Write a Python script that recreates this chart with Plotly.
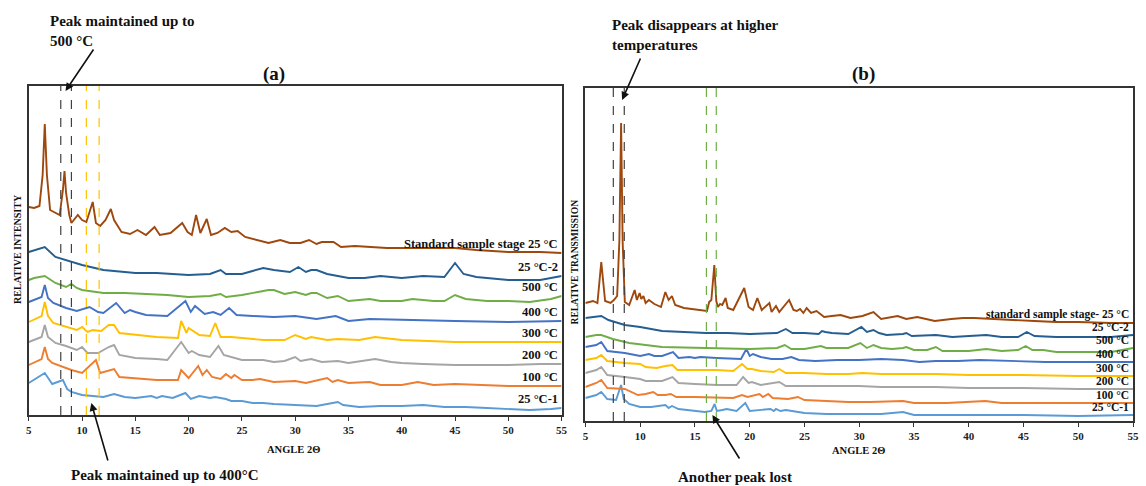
import plotly.graph_objects as go

W, H = 1146, 486
SERIF = "Liberation Serif, Times New Roman, serif"

# ---------------- data: panel (a) relative intensity vs 2-theta ----------------
A_25C1 = [(5, 32), (6.5, 42), (7.2, 31), (8.2, 35), (8.6, 26), (9, 23), (10, 20), (11, 19), (12, 18), (13, 21),
          (14, 18), (15, 17), (16.5, 19), (17, 17), (17.5, 19), (18.5, 17), (19.7, 22), (20.2, 16), (21, 19), (22, 17),
          (22.5, 18), (23.5, 16), (24, 14), (25, 14), (26, 12), (27, 12), (28, 11), (30, 10), (32, 9), (34, 13),
          (34.5, 10), (36, 8), (38, 9), (40, 9), (42, 10), (44, 8), (46, 8), (48, 7), (50, 6), (52, 5), (54, 6), (55, 7)]
A_100 = [(5, 50), (6.2, 56), (6.5, 68), (6.8, 56), (7.2, 52), (8.5, 47), (9, 45), (10, 42), (11.3, 55), (11.7, 42),
         (12.3, 44), (13, 46), (13.5, 38), (15, 37), (17, 35), (19, 35), (19.3, 45), (20, 37), (20.9, 49), (21.3, 40),
         (21.7, 45), (22.2, 38), (23, 36), (23.5, 41), (24, 37), (24.3, 40), (25, 35), (26, 35), (26.7, 36), (28, 33),
         (30, 34), (31, 32), (33, 37), (33.5, 33), (34, 35), (35, 32), (37, 33), (38, 30), (40, 30), (41.5, 33),
         (43, 30), (45, 31), (47, 30), (50, 29), (53, 29), (55, 29)]
A_200 = [(5, 73), (6.2, 78), (6.5, 90), (6.8, 78), (7.5, 72), (8.5, 69), (9.5, 65), (10, 68), (10.5, 62), (11.5, 62),
         (12.5, 68), (13, 70), (13.5, 60), (15, 57), (17, 56), (18, 55), (19.3, 73), (20, 62), (20.3, 64), (21, 60),
         (22, 58), (22.8, 69), (23.3, 60), (24, 58), (25, 55), (27, 55), (28, 53), (29, 54), (30, 58), (30.5, 54),
         (31.5, 56), (32.5, 53), (34, 54), (35, 52), (37.5, 56), (39, 53), (40, 52), (42, 51), (45, 50), (48, 50),
         (50, 50), (53, 51), (55, 51)]
A_300 = [(5, 93), (6.2, 99), (6.5, 113), (6.8, 99), (7.3, 92), (8.5, 88), (9.5, 85), (10, 88), (10.5, 83), (11, 85),
         (11.8, 84), (12.5, 90), (13, 90), (13.5, 82), (15, 80), (17, 78), (19, 77), (19.3, 94), (19.8, 82), (20, 87),
         (21, 80), (22, 79), (22.5, 92), (23, 78), (24, 78), (25, 77), (27, 75), (29, 75), (30, 80), (31, 76),
         (31.5, 78), (33, 75), (34, 76), (36, 75), (37.5, 78), (40, 75), (42, 74), (45, 73), (48, 73), (50, 73), (55, 73)]
A_400 = [(5, 113), (6.2, 118), (6.5, 130), (6.8, 117), (7.3, 112), (8.5, 107), (9.5, 104), (10.7, 108), (11.5, 103),
         (12, 102), (13.2, 112), (14, 102), (14.5, 105), (15, 103), (16, 100), (18, 99), (19.7, 114), (20.2, 103),
         (20.6, 109), (21.5, 101), (22.3, 103), (23, 100), (23.8, 107), (24.5, 100), (26, 99), (28, 98), (30, 99),
         (32, 96), (33.8, 99), (35, 94), (37, 96), (40, 95), (45, 94), (50, 93), (55, 94)]
A_500 = [(5, 135), (5.5, 137), (6.5, 139), (7.5, 132), (8.5, 128), (9, 131), (9.5, 127), (10, 125), (12, 122), (14, 122),
         (16, 121), (18, 120), (20, 118), (22, 119), (23, 121), (23.5, 118), (25, 120), (26.5, 123), (27.5, 125),
         (28, 125), (29, 121), (30, 123), (31, 120), (31.5, 122), (32, 122), (33, 117), (34, 119), (35, 114), (37, 116),
         (38, 114), (40, 114), (41, 116), (43, 114), (44, 114), (45, 120), (46, 116), (48, 114), (50, 114), (52, 113),
         (54, 116), (55, 119)]
A_25C2 = [(5, 163), (6.5, 168), (7.5, 158), (9, 153), (10, 150), (12, 145), (15, 142), (17, 142), (20, 140), (22, 141),
          (23, 145), (23.5, 141), (25, 141), (26, 144), (27, 147), (28, 145), (29.5, 143), (30.3, 148), (31, 143),
          (31.5, 145), (32, 145), (33, 141), (34, 139), (35, 137), (36.5, 137), (38, 139), (40, 137), (42, 139),
          (44, 138), (45, 152), (45.8, 141), (47, 138), (50, 135), (53, 135), (55, 139)]
A_STD = [(5, 208), (5.5, 207), (6, 209), (6.3, 240), (6.5, 291), (6.7, 240), (7, 205), (7.5, 202), (7.9, 200),
         (8.2, 225), (8.35, 244), (8.5, 222), (8.8, 200), (9, 192), (9.6, 200), (10, 195), (10.4, 193), (11, 213),
         (11.3, 192), (11.7, 189), (12.2, 195), (12.7, 206), (13, 195), (13.7, 183), (14.5, 181), (15.2, 185),
         (16, 180), (16.8, 188), (17.3, 180), (18.3, 182), (19.4, 192), (19.9, 183), (20.3, 180), (20.7, 200),
         (21.1, 182), (21.7, 196), (22.1, 180), (22.7, 182), (23.4, 187), (24, 183), (24.6, 184), (25.3, 178),
         (26.3, 175), (27.5, 172), (28.6, 175), (29.5, 172), (30.5, 172), (31.3, 175), (32, 171), (32.5, 173),
         (33.6, 173), (34.3, 168), (35.6, 169), (37, 168), (38.6, 167), (40, 167), (42, 167), (45, 167), (47, 165),
         (50, 163), (53, 163), (55, 162)]

# ---------------- data: panel (b) relative transmission vs 2-theta ----------------
B_25C1 = [(5, 23), (6, 26), (6.45, 29), (7, 22), (7.8, 21), (8.26, 36), (8.5, 22), (9, 17), (10, 14), (11, 14),
          (12.3, 16), (12.6, 13), (12.9, 15), (13.5, 12), (15.9, 9), (16.5, 10), (16.8, 17), (17, 10), (17.5, 11),
          (17.9, 12), (18.8, 10), (19.6, 18), (20, 10), (21, 11), (21.9, 12), (22.2, 10), (22.4, 12), (22.8, 10),
          (23.3, 11), (25, 8), (27, 7), (30, 7), (32, 7), (34, 9), (35, 6), (40, 6), (45, 6), (50, 5), (55, 6)]
B_100 = [(5, 34), (6, 38), (6.45, 41), (7, 33), (8.6, 32), (9.8, 26), (10.5, 27), (11.2, 29), (11.6, 26), (12.3, 26),
         (12.8, 27), (13.3, 24), (15, 24), (17, 23), (18.5, 23), (19.3, 26), (19.8, 24), (20.9, 27), (21.2, 24),
         (21.7, 27), (22.1, 23), (23.5, 22), (24.4, 24), (25, 21), (27, 20), (29, 19), (31, 19), (34, 20), (35, 18),
         (38, 18), (41.5, 20), (43, 18), (46, 18), (50, 18), (55, 18)]
B_200 = [(5, 48), (6, 51), (6.45, 54), (7, 46), (8.6, 44), (10, 42), (10.5, 40), (12, 40), (12.95, 44), (13.5, 38),
         (15, 37), (17, 36), (18.8, 36), (19.4, 44), (19.9, 38), (20.2, 39), (21, 36), (22.7, 39), (23.3, 35), (25, 35),
         (26.3, 35), (28, 35), (30, 35), (32, 34), (34, 34), (37, 34), (40, 33), (45, 33), (50, 32), (55, 32)]
B_300 = [(5, 61), (6, 63), (6.45, 66), (7, 60), (8.6, 58), (10, 57), (10.5, 54), (11.5, 53), (12.3, 55), (12.95, 56),
         (13.4, 51), (15, 51), (17, 51), (18.5, 50), (19.3, 57), (19.8, 52), (20.2, 52), (21, 50), (22.2, 49),
         (22.7, 52), (23.3, 48), (25, 48), (27, 47), (29, 47), (30.3, 48), (32, 47), (34, 47), (37, 47), (40, 46),
         (45, 46), (50, 45), (55, 45)]
B_400 = [(5, 74), (6, 76), (6.45, 79), (7, 70), (8.6, 68), (10, 65), (10.8, 67), (11.3, 65), (12, 65), (13, 69),
         (13.5, 63), (14.5, 64), (15, 63), (15.5, 64), (17, 63), (19.2, 62), (19.7, 72), (20, 65), (20.3, 67), (21, 64),
         (22, 62), (23, 62), (23.8, 64), (24.5, 61), (26, 60), (28, 61), (30, 61), (32, 62), (34, 61), (35.5, 59),
         (37, 60), (39, 60), (41, 61), (44, 60), (47, 59), (50, 59), (55, 59)]
B_500 = [(5, 84), (6, 86), (6.45, 86), (7.5, 82), (9, 78), (12, 74), (16, 73), (20, 72), (22.5, 73), (23.2, 76),
         (23.8, 72), (25, 72), (26.5, 75), (27, 73), (29, 73), (30.1, 78), (30.7, 73), (31.3, 76), (32, 73), (33, 72),
         (34, 73), (34.3, 74), (35, 71), (36.2, 71), (37, 74), (37.6, 70), (40, 70), (41.6, 72), (43, 70), (44.5, 71),
         (45.2, 75), (45.8, 71), (46.8, 71), (48, 69), (50, 69), (53, 69), (55, 73)]
B_25C2 = [(5, 103), (6, 104), (6.45, 105), (7.1, 101), (8.6, 96), (10, 94), (12, 90), (14, 89), (16, 88), (18, 88),
          (20, 87), (22.5, 88), (23.3, 92), (23.9, 88), (25, 88), (26.3, 87), (26.6, 90), (26.9, 89), (27.5, 88),
          (29, 87), (30.2, 94), (30.7, 89), (31.3, 91), (31.8, 88), (32.5, 86), (34, 87), (34.3, 88), (34.8, 85),
          (37, 86), (38.5, 84), (40, 85), (41.6, 86), (43, 84), (44.5, 84), (45.3, 89), (46, 85), (48, 84), (50, 84),
          (53, 84), (55, 86)]
B_STD = [(5, 118), (5.7, 120), (6.1, 118), (6.45, 159), (6.8, 120), (7.3, 118), (7.6, 121), (7.9, 125), (8.1, 180),
         (8.26, 298), (8.4, 180), (8.6, 119), (9, 116), (9.5, 131), (9.7, 121), (9.95, 128), (10.1, 122), (10.3, 125),
         (10.5, 118), (10.8, 121), (11.3, 117), (11.9, 114), (12.3, 129), (12.6, 121), (12.9, 125), (13.2, 116),
         (14, 113), (15.2, 111), (16.1, 110), (16.3, 119), (16.5, 121), (16.77, 156), (16.95, 120), (17.1, 114),
         (17.3, 117), (17.5, 116), (17.8, 123), (18, 113), (18.5, 111), (19.5, 133), (19.9, 114), (20.3, 111),
         (20.7, 123), (21.1, 111), (21.8, 118), (22, 109), (22.4, 115), (22.7, 109), (23.3, 117), (23.6, 121),
         (24, 111), (24.3, 110), (24.6, 112), (24.9, 108), (25.2, 113), (25.6, 108), (26.1, 110), (26.8, 104),
         (27.5, 105), (28.3, 106), (29.2, 103), (30.3, 105), (31.3, 109), (32, 102), (33.5, 105), (34.3, 102),
         (35.3, 104), (36, 102), (36.9, 100), (38.4, 102), (39.5, 103), (40.5, 103), (42, 102), (44, 101), (46, 100),
         (48, 99), (50, 99), (53, 98), (55, 98)]

LABELS_A = ["25 °C-1", "100 °C", "200 °C", "300 °C", "400 °C", "500 °C", "25 °C-2", "Standard sample stage 25 °C"]
LABELS_B = ["25 °C-1", "100 °C", "200 °C", "300 °C", "400 °C", "500 °C", "25 °C-2", "standard sample stage- 25 °C"]
COLORS = ["#5B9BD5", "#ED7D31", "#A5A5A5", "#FFC000", "#4472C4", "#70AD47", "#255E91", "#9E480E"]
SERIES_A = [A_25C1, A_100, A_200, A_300, A_400, A_500, A_25C2, A_STD]
SERIES_B = [B_25C1, B_100, B_200, B_300, B_400, B_500, B_25C2, B_STD]
TICKS = [5, 10, 15, 20, 25, 30, 35, 40, 45, 50, 55]

# marker lines (2-theta)
MARK_A_BLACK = [8.0, 9.0]
MARK_A_GOLD = [10.4, 11.6]
MARK_B_BLACK = [7.55, 8.55]
MARK_B_GREEN = [16.05, 16.95]

fig = go.Figure()


def add_panel(series_list, labels, xa, ya, lab_size):
    for s, lab, col in zip(series_list, labels, COLORS):
        xs = [p[0] for p in s]
        ys = [p[1] for p in s]
        fig.add_trace(go.Scatter(x=xs, y=ys, mode="lines", xaxis=xa, yaxis=ya,
                                 line=dict(color=col, width=1.9), showlegend=False, hoverinfo="skip"))
        fig.add_annotation(x=55, y=ys[-1], xref=xa, yref=ya, text=lab, showarrow=False,
                           xanchor="right", yanchor="bottom", xshift=-2, yshift=0,
                           font=dict(family=SERIF, size=lab_size, color="#111", weight="bold"))


add_panel(SERIES_A, LABELS_A, "x", "y", 12.5)
add_panel(SERIES_B, LABELS_B, "x2", "y2", 11.5)

for xv in MARK_A_BLACK:
    fig.add_shape(type="line", xref="x", yref="y domain", x0=xv, x1=xv, y0=0, y1=1,
                  line=dict(color="#404040", width=1.2, dash="dash"))
for xv in MARK_A_GOLD:
    fig.add_shape(type="line", xref="x", yref="y domain", x0=xv, x1=xv, y0=0, y1=1,
                  line=dict(color="#FFC000", width=1.2, dash="dash"))
for xv in MARK_B_BLACK:
    fig.add_shape(type="line", xref="x2", yref="y2 domain", x0=xv, x1=xv, y0=0, y1=1,
                  line=dict(color="#404040", width=1.2, dash="dash"))
for xv in MARK_B_GREEN:
    fig.add_shape(type="line", xref="x2", yref="y2 domain", x0=xv, x1=xv, y0=0, y1=1,
                  line=dict(color="#70AD47", width=1.2, dash="dash"))

axis_common = dict(showgrid=False, zeroline=False, showline=True, mirror=True,
                   linecolor="#333", linewidth=1.5)
xcommon = dict(axis_common, range=[5, 55], tickvals=TICKS, ticks="outside", ticklen=4,
               tickcolor="#333", tickfont=dict(family=SERIF, size=11, color="#222", weight="bold"))
ycommon = dict(axis_common, showticklabels=False, ticks="")

fig.update_layout(
    width=W, height=H, margin=dict(l=0, r=0, t=0, b=0),
    paper_bgcolor="white", plot_bgcolor="white",
    xaxis=dict(xcommon, domain=[26 / W, 563 / W], anchor="y"),
    yaxis=dict(ycommon, domain=[(H - 415) / H, (H - 86) / H], range=[0, 329], anchor="x"),
    xaxis2=dict(xcommon, domain=[587 / W, 1139 / W], anchor="y2"),
    yaxis2=dict(ycommon, domain=[(H - 421) / H, (H - 88) / H], range=[0, 333], anchor="x2"),
)


def txt(px, py, text, size, xanchor="center", yanchor="middle", angle=0, align="center"):
    fig.add_annotation(x=px / W, y=1 - py / H, xref="paper", yref="paper", text=text, showarrow=False,
                       xanchor=xanchor, yanchor=yanchor, textangle=angle, align=align,
                       font=dict(family=SERIF, size=size, color="#111", weight="bold"))


def arrow(tail, tip):
    fig.add_annotation(x=tip[0] / W, y=1 - tip[1] / H, xref="paper", yref="paper", text="",
                       showarrow=True, ax=tail[0] - tip[0], ay=tail[1] - tip[1],
                       arrowhead=2, arrowsize=1, arrowwidth=1.6, arrowcolor="#111")


txt(273, 74, "(a)", 19)
txt(867, 74, "(b)", 19)
txt(293, 449, "ANGLE 2Θ", 10.5)
txt(862, 450, "ANGLE 2Θ", 10.5)
txt(14, 249, "RELATIVE INTENSITY", 10, angle=-90)
txt(577, 262, "RELATIVE TRANSMISSION", 9.5, angle=-90)
txt(45, 11, "Peak maintained up to<br>500 °C", 15, xanchor="left", yanchor="top", align="left")
txt(612, 15, "Peak disappears at higher<br>temperatures", 15, xanchor="left", yanchor="top", align="left")
txt(163, 475, "Peak maintained up to 400°C", 15)
txt(738, 477, "Another peak lost", 15)
arrow((92, 48), (63, 91))
arrow((106, 462), (89, 403))
arrow((643, 57), (624, 100))
arrow((743, 460), (715, 415))

fig.write_html("out.html")
